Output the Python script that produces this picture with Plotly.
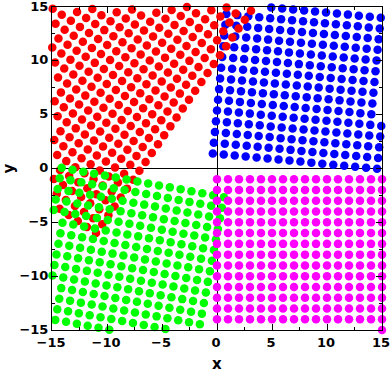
import math
import plotly.graph_objects as go

# Each point set is a square lattice (unit spacing):
# anchor point, direction angle of the first lattice axis (deg),
# index ranges along both axes; points outside [-15, 15] are not shown.
blue_anchor = [-0.38, 1.40]
blue_angle = -5.45
blue_i = list(range(0, 16))
blue_j = list(range(0, 17))

red_anchor = [-11.0, -6.0]
red_angle = 55.7
red_i = list(range(0, 27))
red_j = list(range(0, 16))

green_anchor = [-14.12, 0.07]
green_angle = -10.5
green_i = list(range(0, 16))
green_j = list(range(0, 16))   # rows counted downward

magenta_anchor = [0.0, -1.0]
magenta_angle = 0.0
magenta_i = list(range(0, 16))
magenta_j = list(range(0, 14))  # rows counted downward
magenta_extra_x = [15.0]
magenta_extra_y = [-15.0]

axis_min, axis_max = -15, 15
tick_vals = [-15, -10, -5, 0, 5, 10, 15]
x_title = "x"
y_title = "y"


def lattice(anchor, angle, ii, jj, downward=False):
    a = math.radians(angle)
    e1 = (math.cos(a), math.sin(a))
    b = a - math.pi / 2 if downward else a + math.pi / 2
    e2 = (math.cos(b), math.sin(b))
    xs, ys = [], []
    eps = 0.04
    for i in ii:
        for j in jj:
            x = anchor[0] + i * e1[0] + j * e2[0]
            y = anchor[1] + i * e1[1] + j * e2[1]
            if axis_min - eps <= x <= axis_max + eps and axis_min - eps <= y <= axis_max + eps:
                xs.append(x)
                ys.append(y)
    return xs, ys


bx, by = lattice(blue_anchor, blue_angle, blue_i, blue_j)
rx, ry = lattice(red_anchor, red_angle, red_i, red_j)
gx, gy = lattice(green_anchor, green_angle, green_i, green_j, downward=True)
mx, my = lattice(magenta_anchor, magenta_angle, magenta_i, magenta_j, downward=True)
mx += magenta_extra_x
my += magenta_extra_y

fig = go.Figure()
for xs, ys, col in [(bx, by, "#0000ff"), (rx, ry, "#ff0000"),
                    (gx, gy, "#00ff00"), (mx, my, "#ff00ff")]:
    fig.add_trace(go.Scatter(x=xs, y=ys, mode="markers",
                             marker=dict(color=col, size=8.5, line=dict(width=0)),
                             cliponaxis=False, showlegend=False, hoverinfo="skip"))

tick_font = dict(family="DejaVu Sans", size=13, color="black", weight="bold")
title_font = dict(family="DejaVu Sans", size=15, color="black", weight="bold")

axis_common = dict(
    range=[axis_min, axis_max], tickvals=tick_vals, ticks="inside", ticklen=6,
    tickwidth=1, tickcolor="black", showline=True, linecolor="black", linewidth=1,
    mirror="allticks", showgrid=False, zeroline=True, zerolinecolor="black",
    zerolinewidth=1, ticklabeloverflow="allow", automargin=False,
    minor=dict(dtick=2.5, ticks="inside", ticklen=3, tickcolor="black", showgrid=False),
    tickfont=tick_font,
)

fig.update_layout(
    width=390, height=375,
    margin=dict(l=52, r=8, t=7, b=45),
    paper_bgcolor="white", plot_bgcolor="white",
    xaxis=dict(**axis_common, ticklabelshift=-1),
    yaxis=dict(**axis_common, ticklabelshift=-1),
    annotations=[
        dict(text=x_title, xref="paper", yref="paper", x=0.5, y=-(45 / 323.0),
             xanchor="center", yanchor="bottom", showarrow=False, font=title_font),
        dict(text=y_title, xref="paper", yref="paper", x=-0.133, y=0.5,
             xanchor="center", yanchor="middle", showarrow=False, textangle=-90,
             font=title_font),
    ],
)

fig.write_html("out.html")
